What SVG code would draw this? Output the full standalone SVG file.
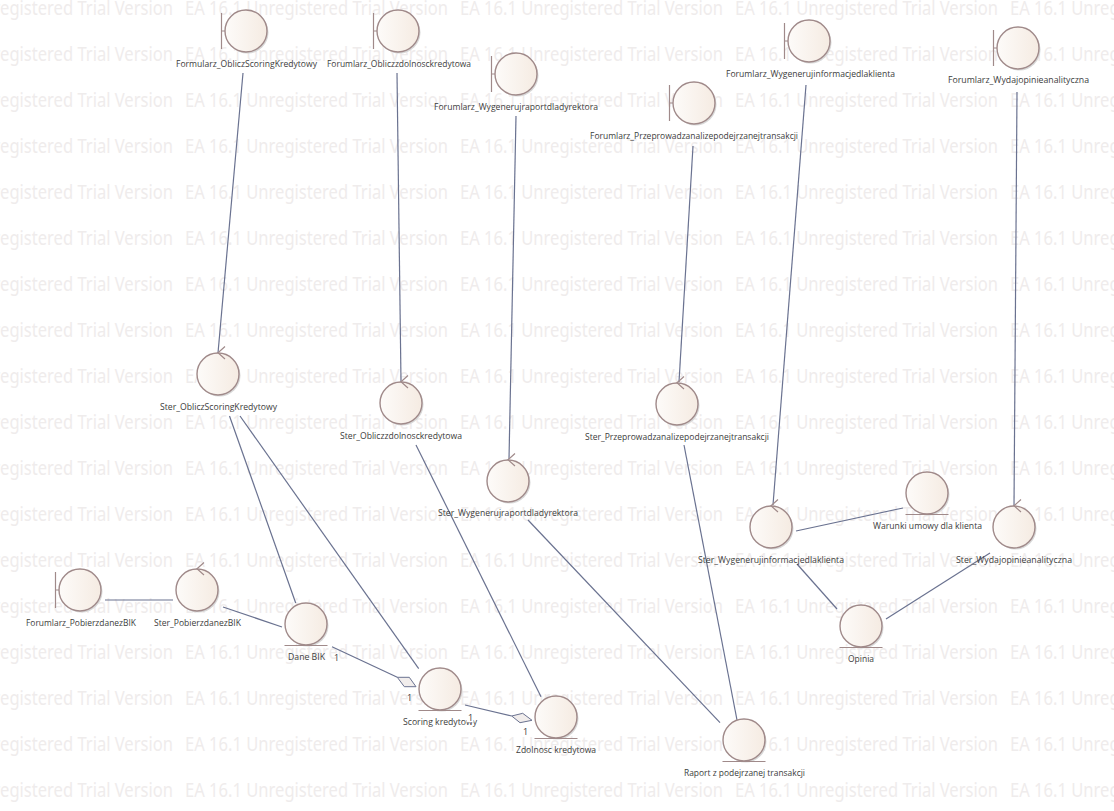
<svg xmlns="http://www.w3.org/2000/svg" xmlns:xlink="http://www.w3.org/1999/xlink" width="1114" height="811" viewBox="0 0 1114 811">
<style>
.wm{font:20px "Noto Sans","Liberation Sans",sans-serif;fill:#efecec}
.lb{font:9px "Open Sans","Liberation Sans",sans-serif;fill:#3c3c3c}
.c{fill:url(#g);stroke:#a08a8a;stroke-width:1.4}
.sh{fill:#d8d8d8}
.d{fill:none;stroke:#a08a8a;stroke-width:1.2}
.cn{stroke:#6a7290;stroke-width:1.2;fill:none}
.di{fill:#f1edec;stroke:#6a7290;stroke-width:1}
</style>
<defs>
<linearGradient id="g" x1="0" x2="1" y1="0" y2="0"><stop offset="0" stop-color="#fdfbf9"/><stop offset="1" stop-color="#f5ebe2"/></linearGradient>
<g id="base"><circle class="sh" cx="1.5" cy="1.5" r="21"/><circle class="c" r="21"/></g>
<g id="bnd"><use href="#base"/><path class="d" d="M-24.500-18V18M-24.500 0H-21"/></g>
<g id="ctl"><use href="#base"/><path class="d" d="M7-27.500L0-21.200L7-15"/></g>
<g id="ent"><use href="#base"/><path class="d" d="M-21.500 21.500H21.500"/></g>
<text id="wt" class="wm" textLength="263" lengthAdjust="spacingAndGlyphs">EA 16.1 Unregistered Trial Version</text>
<g id="wr"><use href="#wt" x="-90"/><use href="#wt" x="185"/><use href="#wt" x="460"/><use href="#wt" x="735"/><use href="#wt" x="1010"/></g>
</defs>
<rect width="1114" height="811" fill="#fff"/>
<g id="watermark">
<use href="#wr" y="15"/><use href="#wr" y="61"/><use href="#wr" y="107"/><use href="#wr" y="153"/><use href="#wr" y="199"/><use href="#wr" y="245"/><use href="#wr" y="291"/><use href="#wr" y="337"/><use href="#wr" y="383"/><use href="#wr" y="429"/><use href="#wr" y="475"/><use href="#wr" y="521"/><use href="#wr" y="567"/><use href="#wr" y="613"/><use href="#wr" y="659"/><use href="#wr" y="705"/><use href="#wr" y="751"/><use href="#wr" y="797"/>
</g>
<g id="connectors">
<path class="cn" d="M243 73L218 353"/>
<path class="cn" d="M397 73L401 382"/>
<path class="cn" d="M516 116L509 459"/>
<path class="cn" d="M693 146L679 382"/>
<path class="cn" d="M806 85L773 505"/>
<path class="cn" d="M1017 92L1014 506"/>
<path class="cn" d="M229.500 416L295.700 603"/>
<path class="cn" d="M240 416L418.700 668.700"/>
<path class="cn" d="M416 445L541 696.700"/>
<path class="cn" d="M528 520L720 722.700"/>
<path class="cn" d="M684 445L737 720"/>
<path class="cn" d="M796 531L903 508"/>
<path class="cn" d="M797 564L837 609"/>
<path class="cn" d="M990 553L886 619"/>
<path class="cn" d="M105 600H173"/>
<path class="cn" d="M223 607L282 627"/>
<path class="cn" d="M332 646.700L397.300 677.300"/>
<polygon class="di" points="397.300,677.300 409.300,677.300 416,686.700 404.300,686.700"/>
<path class="cn" d="M465 705L511.700 716"/>
<polygon class="di" points="511.700,716 522.700,713.300 532,720.300 520,722.700"/>
</g>
<g id="F1"><use href="#bnd" x="246" y="31"/><text class="lb" x="176" y="67" textLength="141" lengthAdjust="spacingAndGlyphs">Formularz_ObliczScoringKredytowy</text></g>
<g id="F2"><use href="#bnd" x="398" y="31"/><text class="lb" x="327" y="67" textLength="144" lengthAdjust="spacingAndGlyphs">Forumlarz_Obliczzdolnosckredytowa</text></g>
<g id="F3"><use href="#bnd" x="516" y="74"/><text class="lb" x="434" y="110" textLength="164" lengthAdjust="spacingAndGlyphs">Forumlarz_Wygenerujraportdladyrektora</text></g>
<g id="F4"><use href="#bnd" x="694" y="103"/><text class="lb" x="590" y="139" textLength="208" lengthAdjust="spacingAndGlyphs">Forumlarz_Przeprowadzanalizepodejrzanejtransakcji</text></g>
<g id="F5"><use href="#bnd" x="809" y="41"/><text class="lb" x="726" y="77" textLength="169" lengthAdjust="spacingAndGlyphs">Forumlarz_Wygenerujinformacjedlaklienta</text></g>
<g id="F6"><use href="#bnd" x="1018" y="48"/><text class="lb" x="948" y="83" textLength="141" lengthAdjust="spacingAndGlyphs">Forumlarz_Wydajopinieanalityczna</text></g>
<g id="F7"><use href="#bnd" x="80" y="590"/><text class="lb" x="26" y="626" textLength="110" lengthAdjust="spacingAndGlyphs">Forumlarz_PobierzdanezBIK</text></g>
<g id="S1"><use href="#ctl" x="218" y="374"/><text class="lb" x="160" y="410" textLength="117" lengthAdjust="spacingAndGlyphs">Ster_ObliczScoringKredytowy</text></g>
<g id="S2"><use href="#ctl" x="401" y="403"/><text class="lb" x="340" y="439" textLength="122" lengthAdjust="spacingAndGlyphs">Ster_Obliczzdolnosckredytowa</text></g>
<g id="S3"><use href="#ctl" x="508" y="481"/><text class="lb" x="438" y="516" textLength="140" lengthAdjust="spacingAndGlyphs">Ster_Wygenerujraportdladyrektora</text></g>
<g id="S4"><use href="#ctl" x="677" y="404"/><text class="lb" x="585" y="440" textLength="184" lengthAdjust="spacingAndGlyphs">Ster_Przeprowadzanalizepodejrzanejtransakcji</text></g>
<g id="S5"><use href="#ctl" x="771" y="527"/><text class="lb" x="698" y="563" textLength="146" lengthAdjust="spacingAndGlyphs">Ster_Wygenerujinformacjedlaklienta</text></g>
<g id="S6"><use href="#ctl" x="1014" y="527"/><text class="lb" x="956" y="563" textLength="116" lengthAdjust="spacingAndGlyphs">Ster_Wydajopinieanalityczna</text></g>
<g id="S7"><use href="#ctl" x="197" y="590"/><text class="lb" x="154" y="626" textLength="87" lengthAdjust="spacingAndGlyphs">Ster_PobierzdanezBIK</text></g>
<g id="E1"><use href="#ent" x="306" y="624"/><text class="lb" x="288" y="660" textLength="37" lengthAdjust="spacingAndGlyphs">Dane BIK</text></g>
<g id="E2"><use href="#ent" x="440" y="689"/><text class="lb" x="403" y="725" textLength="74" lengthAdjust="spacingAndGlyphs">Scoring kredytowy</text></g>
<g id="E3"><use href="#ent" x="556" y="717"/><text class="lb" x="516" y="753" textLength="80" lengthAdjust="spacingAndGlyphs">Zdolnosc kredytowa</text></g>
<g id="E4"><use href="#ent" x="744" y="740"/><text class="lb" x="684" y="776" textLength="121" lengthAdjust="spacingAndGlyphs">Raport z podejrzanej transakcji</text></g>
<g id="E5"><use href="#ent" x="927" y="493"/><text class="lb" x="873" y="529" textLength="109" lengthAdjust="spacingAndGlyphs">Warunki umowy dla klienta</text></g>
<g id="E6"><use href="#ent" x="861" y="626"/><text class="lb" x="848" y="662" textLength="26" lengthAdjust="spacingAndGlyphs">Opinia</text></g>
<g id="multiplicities">
<text class="lb" x="334" y="661">1</text>
<text class="lb" x="407" y="701">1</text>
<rect x="466.500" y="712" width="7" height="10" fill="#fff"/>
<text class="lb" x="468" y="721">1</text>
<text class="lb" x="523" y="735">1</text>
</g>
</svg>
